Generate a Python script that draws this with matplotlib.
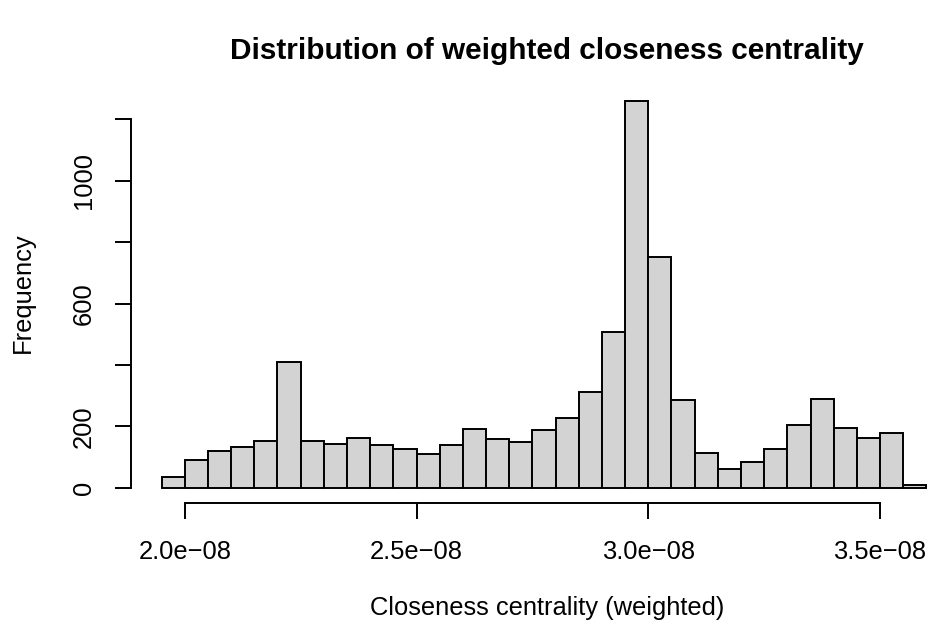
import matplotlib
matplotlib.use("Agg")
import matplotlib.pyplot as plt
import numpy as np

# ---- data ----
bin_start = 1.95e-08
bin_width = 0.05e-08
counts = [36, 92, 120, 134, 152, 410, 153, 143, 161, 140, 127, 110,
          140, 193, 160, 149, 189, 228, 313, 508, 1260, 751, 287, 112,
          60, 84, 125, 204, 290, 196, 163, 180, 9]
x_ticks = [2.0e-08, 2.5e-08, 3.0e-08, 3.5e-08]
x_tick_labels = ["2.0e\u221208", "2.5e\u221208", "3.0e\u221208", "3.5e\u221208"]
y_ticks = [0, 200, 400, 600, 800, 1000, 1200]
y_tick_labels = ["0", "200", "", "600", "", "1000", ""]

title = "Distribution of weighted closeness centrality"
xlabel = "Closeness centrality (weighted)"
ylabel = "Frequency"

plt.rcParams['font.family'] = ['Liberation Sans', 'DejaVu Sans']
FS = 18.4

W, H = 930, 630
fig = plt.figure(figsize=(W / 100, H / 100), dpi=100)

left_px, right_px, top_px, bottom_px = 131, 957, 85.5, 503.3
ax = fig.add_axes([left_px / W, 1 - bottom_px / H,
                   (right_px - left_px) / W, (bottom_px - top_px) / H])

edges = bin_start + bin_width * np.arange(len(counts) + 1)
ax.bar(edges[:-1], counts, width=bin_width, align='edge',
       color='#D3D3D3', edgecolor='black', linewidth=1.4)

lo, hi = edges[0], edges[-1]
pad = 0.04 * (hi - lo)
ax.set_xlim(lo - pad, hi + pad)
ymax = max(counts)
ax.set_ylim(-0.04 * ymax, 1.04 * ymax)

for s in ['top', 'right']:
    ax.spines[s].set_visible(False)
ax.spines['left'].set_bounds(y_ticks[0], y_ticks[-1])
ax.spines['bottom'].set_bounds(x_ticks[0], x_ticks[-1])
for s in ['left', 'bottom']:
    ax.spines[s].set_linewidth(1.4)

ax.set_xticks(x_ticks)
ax.set_xticklabels(x_tick_labels)
ax.set_yticks(y_ticks)
ax.set_yticklabels(y_tick_labels, rotation=90, va='center')
ax.tick_params(axis='both', length=11.3, width=1.4, labelsize=FS, direction='out')
ax.tick_params(axis='x', pad=15)
ax.tick_params(axis='y', pad=14)

fig.text(547 / W, 1 - 51 / H, title, ha='center', va='center',
         fontsize=21.4, fontweight='bold')
fig.text(547 / W, 1 - 608 / H, xlabel, ha='center', va='center', fontsize=FS)
fig.text(23 / W, 1 - 293 / H, ylabel, ha='center', va='center',
         fontsize=FS, rotation=90)

fig.savefig("out.png", dpi=100)
